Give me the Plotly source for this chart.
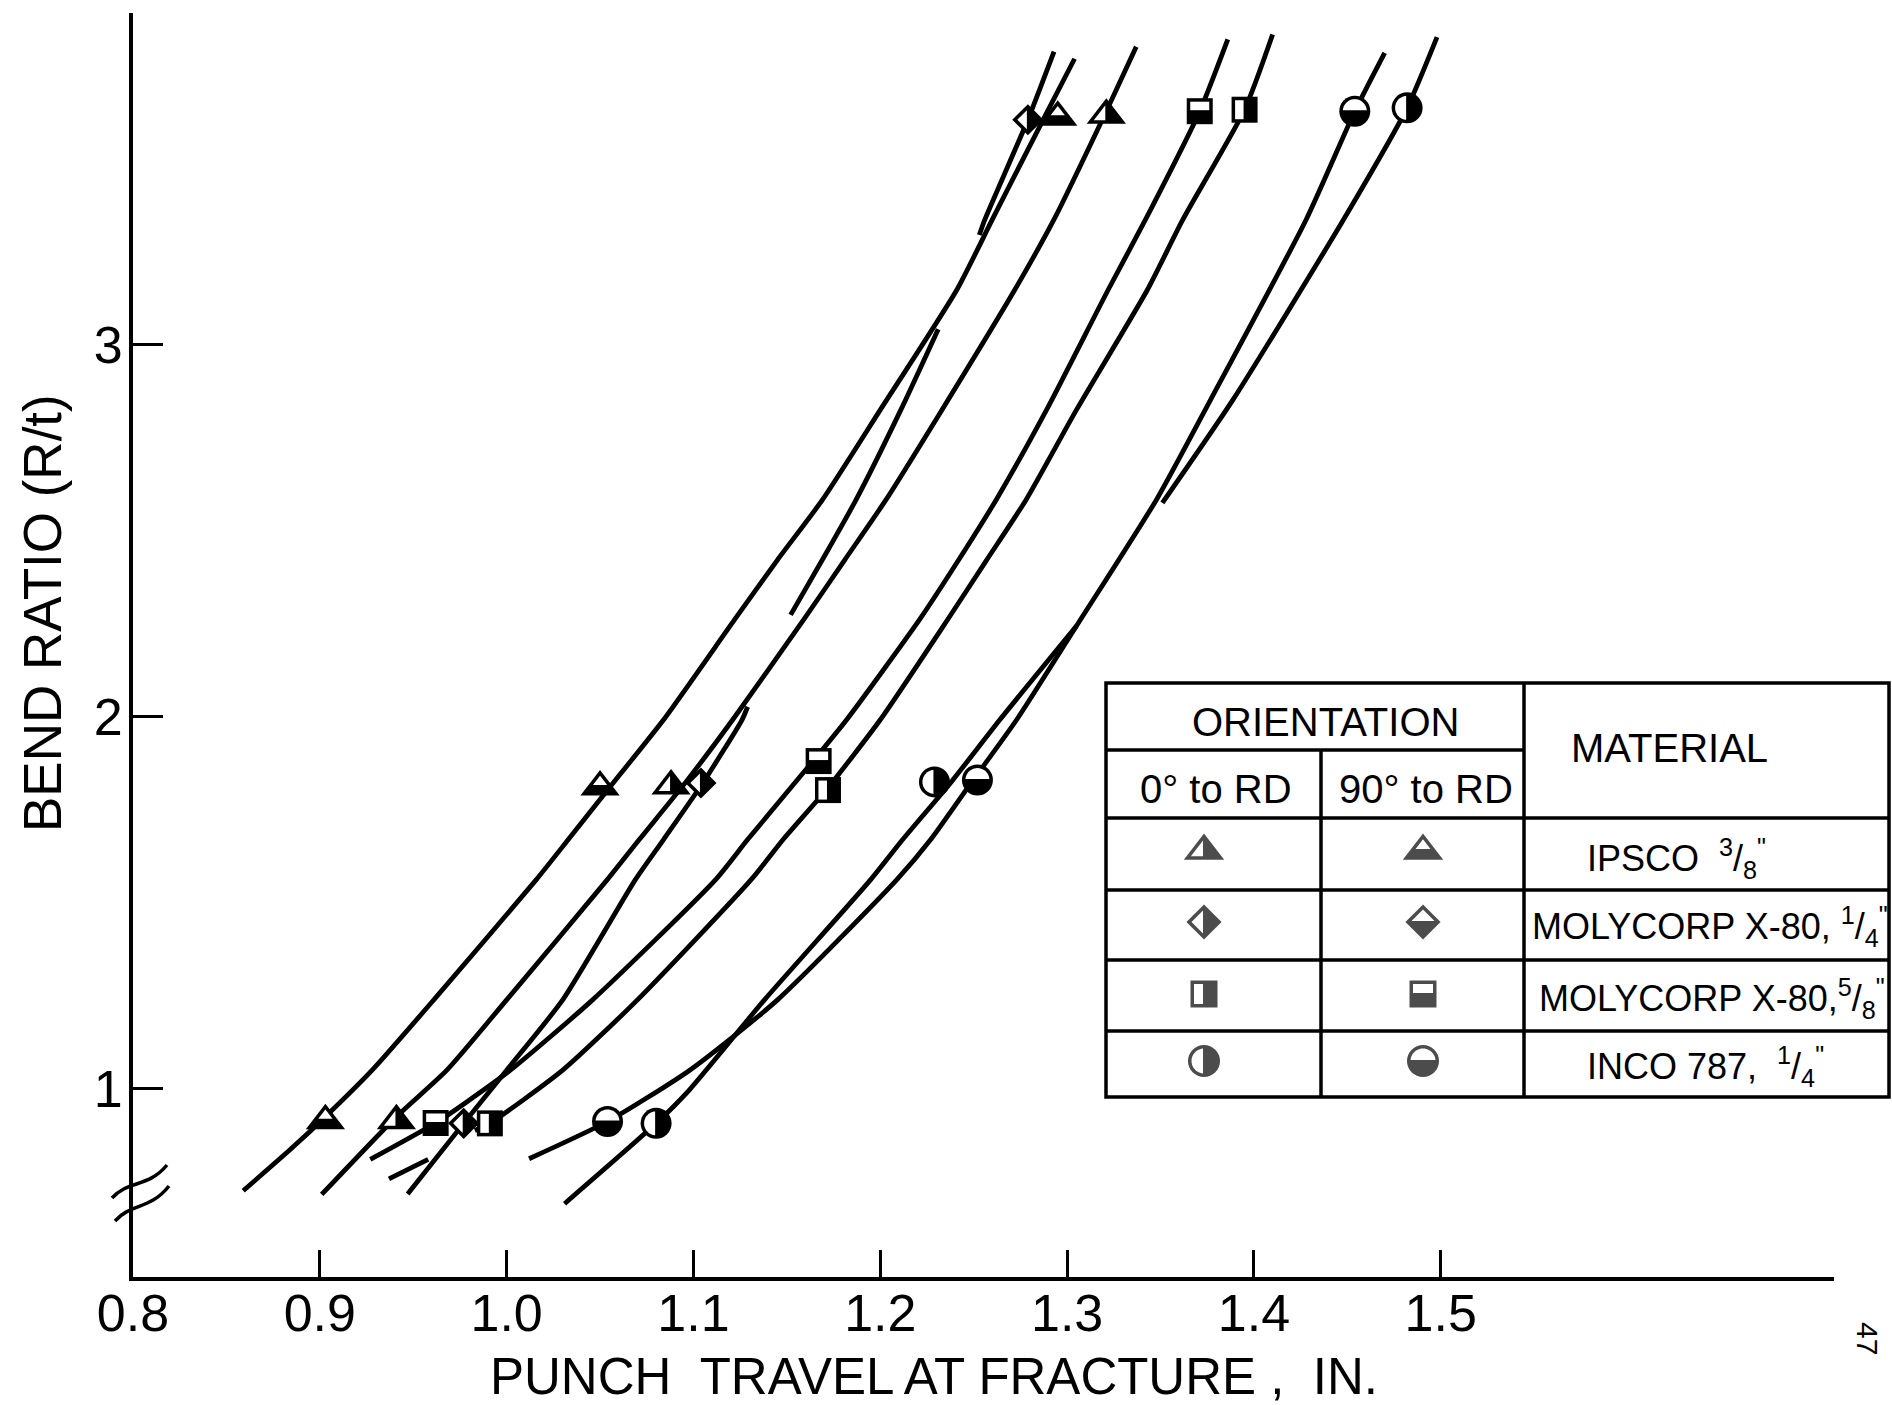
import math
import plotly.graph_objects as go

# ---------------- values ----------------
x_ticks = [0.8, 0.9, 1.0, 1.1, 1.2, 1.3, 1.4, 1.5]
x_ticklabels = ["0.8", "0.9", "1.0", "1.1", "1.2", "1.3", "1.4", "1.5"]
y_ticks = [1, 2, 3]
y_ticklabels = ["1", "2", "3"]
x_range = [0.8, 1.7105]
y_range = [0.494, 3.892]

# plotted points (punch travel at fracture, in. ; bend ratio R/t)
ipsco_0_x = [0.941, 1.088, 1.321]
ipsco_0_y = [0.914, 1.814, 3.617]
ipsco_90_x = [0.903, 1.050, 1.295]
ipsco_90_y = [0.914, 1.811, 3.612]
moly14_0_x = [0.977, 1.104, 1.279]
moly14_0_y = [0.907, 1.822, 3.605]
moly58_0_x = [0.991, 1.172, 1.395]
moly58_0_y = [0.907, 1.803, 3.632]
moly58_90_x = [0.962, 1.167, 1.371]
moly58_90_y = [0.908, 1.881, 3.628]
inco_0_x = [1.080, 1.229, 1.482]
inco_0_y = [0.907, 1.825, 3.637]
inco_90_x = [1.054, 1.252, 1.454]
inco_90_y = [0.912, 1.830, 3.628]

# hand-drawn curves (None = pen lifted)
ipsco_90_curve_x = [0.859, 0.884, 0.903, 0.928, 0.961, 1.016, 1.033, 1.057, 1.084, 1.122,
                    1.145, 1.169, 1.200, 1.241, 1.260, 1.289, 1.304]
ipsco_90_curve_y = [0.726, 0.836, 0.925, 1.050, 1.239, 1.563, 1.670, 1.822, 1.992, 2.261,
                    2.422, 2.583, 2.825, 3.148, 3.337, 3.623, 3.769]
ipsco_0_curve_x = [0.901, 0.941, 0.968, 1.000, 1.054, 1.071, 1.096, 1.121, 1.159, 1.181,
                   1.203, 1.233, 1.272, 1.293, 1.321, 1.337]
ipsco_0_curve_y = [0.716, 0.925, 1.050, 1.239, 1.563, 1.670, 1.825, 1.992, 2.261, 2.422,
                   2.583, 2.825, 3.148, 3.337, 3.628, 3.801]
moly14_0_curve_x = [0.947, 0.977, 1.000, 1.030, 1.069, 1.084, 1.105, 1.126, 1.129, None,
                    1.152, 1.169, 1.187, 1.211, 1.231, None, 1.253, 1.256, 1.279, 1.293]
moly14_0_curve_y = [0.717, 0.907, 1.050, 1.239, 1.563, 1.670, 1.822, 1.992, 2.027, None,
                    2.274, 2.422, 2.583, 2.825, 3.042, None, 3.295, 3.337, 3.605, 3.788]
moly58_90_curve_x = [0.927, 0.962, 0.979, 1.002, 1.046, 1.112, 1.129, 1.164, 1.182, 1.221,
                     1.242, 1.262, 1.289, 1.322, 1.342, 1.371, 1.386]
moly58_90_curve_y = [0.810, 0.908, 0.966, 1.050, 1.239, 1.563, 1.670, 1.881, 1.992, 2.261,
                     2.422, 2.583, 2.825, 3.148, 3.337, 3.628, 3.821]
moly58_0_curve_x = [0.937, 0.958, None, 0.983, 0.991, 1.030, 1.070, 1.131, 1.148, 1.171,
                    1.200, 1.236, 1.257, 1.278, 1.305, 1.343, 1.362, 1.395, 1.410]
moly58_0_curve_y = [0.758, 0.810, None, 0.888, 0.907, 1.050, 1.239, 1.563, 1.670, 1.803,
                    1.992, 2.261, 2.422, 2.583, 2.825, 3.148, 3.337, 3.632, 3.834]
inco_90_curve_x = [1.012, 1.054, 1.098, 1.145, 1.209, 1.227, 1.249, 1.273, 1.305, 1.348,
                   1.377, 1.428, 1.454, 1.470]
inco_90_curve_y = [0.812, 0.912, 1.050, 1.239, 1.563, 1.670, 1.825, 1.992, 2.244, 2.585,
                   2.854, 3.337, 3.628, 3.785]
inco_0_curve_x = [1.031, 1.080, 1.098, 1.138, 1.195, 1.212, 1.238, 1.264, 1.305, None,
                  1.351, 1.389, 1.448, 1.482, 1.498]
inco_0_curve_y = [0.691, 0.907, 0.998, 1.239, 1.563, 1.670, 1.825, 1.992, 2.244, None,
                  2.575, 2.854, 3.337, 3.637, 3.827]

# legend table text
orientation_header = "ORIENTATION"
orientation_cols = ["0° to RD", "90° to RD"]
material_header = "MATERIAL"
materials = [
    "IPSCO  <sup>3</sup>/<sub>8</sub><sup>\"</sup>",
    "MOLYCORP X-80, <sup>1</sup>/<sub>4</sub><sup>\"</sup>",
    "MOLYCORP X-80,<sup>5</sup>/<sub>8</sub><sup>\"</sup>",
    "INCO 787,  <sup>1</sup>/<sub>4</sub><sup>\"</sup>",
]
legend_symbols = ["triangle-up", "diamond", "square", "circle"]

# ---------------- layout geometry ----------------
W, H = 1892, 1405
ML, MR, MT, MB = 133, 58, 13, 128
FONT = "Liberation Sans, Arial, sans-serif"
LW = 4.8


def PX(x):
    return (x - ML) / (W - ML - MR)


def PY(y):
    return 1 - (y - MT) / (H - MT - MB)


def poly_path(pts):
    return "M" + "L".join(f"{x:.2f},{y:.2f}" for x, y in pts) + "Z"


def half_path(symbol, size, half, b=3.5, g=1.0):
    """white half of a half-filled symbol, pixel coords (y up) about the marker centre"""
    r = size / 2.0
    if symbol == "circle":
        ri = r - b
        pts = []
        for i in range(25):
            if half == "left":
                a = math.pi / 2 + math.pi * i / 24
                pts.append((min(ri * math.cos(a), -g), ri * math.sin(a)))
            else:
                a = math.pi * i / 24
                pts.append((ri * math.cos(a), max(ri * math.sin(a), g)))
        return poly_path(pts)
    if symbol == "square":
        h = r - b
        if half == "left":
            return poly_path([(-h, -h), (-g, -h), (-g, h), (-h, h)])
        return poly_path([(-h, g), (h, g), (h, h), (-h, h)])
    if symbol == "diamond":
        ri = 1.3 * r - b * 1.45
        if half == "left":
            return poly_path([(-ri, 0), (-g, ri - g), (-g, -(ri - g))])
        return poly_path([(-(ri - g), g), (0, ri), (ri - g, g)])
    # triangle-up (plotly geometry)
    hw = 2 * r / math.sqrt(3)
    A, B, C = (-hw, -0.5 * r), (hw, -0.5 * r), (0.0, r)
    side = math.hypot(hw, 1.5 * r)
    area = 0.5 * 2 * hw * 1.5 * r
    inr = 2 * area / (2 * hw + 2 * side)
    I = (0.0, -0.5 * r + inr)
    k = 1 - b / inr
    A2, B2, C2 = [(I[0] + k * (p[0] - I[0]), I[1] + k * (p[1] - I[1])) for p in (A, B, C)]
    if half == "left":
        t = (-g - A2[0]) / (C2[0] - A2[0])
        yv = A2[1] + t * (C2[1] - A2[1])
        return poly_path([A2, (-g, A2[1]), (-g, yv)])
    y0 = I[1] + 0.05 * r
    xl = A2[0] + (y0 - A2[1]) / (C2[1] - A2[1]) * (C2[0] - A2[0])
    return poly_path([(xl, y0), (-xl, y0), C2])


MSIZE = {"triangle-up": 34, "diamond": 24, "square": 26, "circle": 31}
LSIZE = {"triangle-up": 35, "diamond": 27, "square": 27, "circle": 32}

series = [
    ("IPSCO 3/8, 90° to RD", ipsco_90_x, ipsco_90_y, ipsco_90_curve_x, ipsco_90_curve_y, "triangle-up", "top"),
    ("IPSCO 3/8, 0° to RD", ipsco_0_x, ipsco_0_y, ipsco_0_curve_x, ipsco_0_curve_y, "triangle-up", "left"),
    ("MOLYCORP X-80 1/4, 0° to RD", moly14_0_x, moly14_0_y, moly14_0_curve_x, moly14_0_curve_y, "diamond", "left"),
    ("MOLYCORP X-80 5/8, 90° to RD", moly58_90_x, moly58_90_y, moly58_90_curve_x, moly58_90_curve_y, "square", "top"),
    ("MOLYCORP X-80 5/8, 0° to RD", moly58_0_x, moly58_0_y, moly58_0_curve_x, moly58_0_curve_y, "square", "left"),
    ("INCO 787 1/4, 90° to RD", inco_90_x, inco_90_y, inco_90_curve_x, inco_90_curve_y, "circle", "top"),
    ("INCO 787 1/4, 0° to RD", inco_0_x, inco_0_y, inco_0_curve_x, inco_0_curve_y, "circle", "left"),
]

fig = go.Figure()
shapes = []

for name, mx, my, cx, cy, sym, half in series:
    fig.add_trace(go.Scatter(
        x=cx, y=cy, mode="lines", name=name + " curve", showlegend=False,
        line=dict(color="black", width=LW, shape="spline", smoothing=0.6),
        connectgaps=False, hoverinfo="skip"))

for name, mx, my, cx, cy, sym, half in series:
    fig.add_trace(go.Scatter(
        x=mx, y=my, mode="markers", name=name, showlegend=False,
        marker=dict(symbol=sym, size=MSIZE[sym], color="black", line=dict(width=0))))
    for xv, yv in zip(mx, my):
        shapes.append(dict(type="path", xref="x", yref="y", xsizemode="pixel", ysizemode="pixel",
                           xanchor=xv, yanchor=yv, path=half_path(sym, MSIZE[sym], half),
                           fillcolor="white", line=dict(width=0), layer="above"))

# ---------------- legend table ----------------
TX0, TX1, TY0, TY1 = 1106, 1889, 683, 1097
COL1, COL2 = 1321, 1524
ROW_LINES = [818, 890, 960, 1031]
ROW_Y = [851, 922, 994, 1061]
COL_X = [1204, 1423]

line_style = dict(color="black", width=3.5)
shapes.append(dict(type="rect", xref="paper", yref="paper", x0=PX(TX0), x1=PX(TX1),
                   y0=PY(TY1), y1=PY(TY0), line=line_style, fillcolor="rgba(0,0,0,0)"))
shapes.append(dict(type="line", xref="paper", yref="paper", x0=PX(TX0), x1=PX(COL2),
                   y0=PY(750), y1=PY(750), line=line_style))
for yl in ROW_LINES:
    shapes.append(dict(type="line", xref="paper", yref="paper", x0=PX(TX0), x1=PX(TX1),
                       y0=PY(yl), y1=PY(yl), line=line_style))
shapes.append(dict(type="line", xref="paper", yref="paper", x0=PX(COL1), x1=PX(COL1),
                   y0=PY(750), y1=PY(TY1), line=line_style))
shapes.append(dict(type="line", xref="paper", yref="paper", x0=PX(COL2), x1=PX(COL2),
                   y0=PY(TY0), y1=PY(TY1), line=line_style))

leg_x, leg_y, leg_sym, leg_size = [], [], [], []
for ri, sym in enumerate(legend_symbols):
    for ci, half in enumerate(["left", "top"]):
        leg_x.append(COL_X[ci])
        leg_y.append(ROW_Y[ri])
        leg_sym.append(sym)
        leg_size.append(LSIZE[sym])
        shapes.append(dict(type="path", xref="x2", yref="y2", xsizemode="pixel", ysizemode="pixel",
                           xanchor=COL_X[ci], yanchor=ROW_Y[ri],
                           path=half_path(sym, LSIZE[sym], half),
                           fillcolor="white", line=dict(width=0), layer="above"))
fig.add_trace(go.Scatter(x=leg_x, y=leg_y, xaxis="x2", yaxis="y2", mode="markers",
                         showlegend=False, hoverinfo="skip",
                         marker=dict(symbol=leg_sym, size=leg_size, color="black", line=dict(width=0))))

# axis break marks
shapes.append(dict(type="path", xref="paper", yref="paper",
                   path=f"M{PX(112)},{PY(1198)} C{PX(128)},{PY(1180)} {PX(148)},{PY(1188)} {PX(167)},{PY(1165)}",
                   line=dict(color="black", width=3.5)))
shapes.append(dict(type="path", xref="paper", yref="paper",
                   path=f"M{PX(115)},{PY(1221)} C{PX(131)},{PY(1203)} {PX(150)},{PY(1210)} {PX(169)},{PY(1186)}",
                   line=dict(color="black", width=3.5)))

ann = []


def text(s, x, y, size, angle=0):
    ann.append(dict(text=s, x=PX(x), y=PY(y), xref="paper", yref="paper", showarrow=False,
                    xanchor="center", yanchor="middle", textangle=angle,
                    font=dict(family=FONT, size=size, color="black")))


text(orientation_header, 1325, 722, 40)
text(material_header, 1669, 748, 40)
text(orientation_cols[0], 1216, 789, 40)
text(orientation_cols[1], 1426, 789, 40)
text(materials[0], 1676, 858, 36)
text(materials[1], 1710, 926, 36)
text(materials[2], 1712, 998, 36)
text(materials[3], 1705, 1066, 36)
text("BEND RATIO (R/t)", 42, 613, 53, -90)
text("PUNCH&nbsp;&nbsp;TRAVEL AT FRACTURE ,&nbsp;&nbsp;IN.", 934, 1376, 51)
text("47", 1868, 1338, 30, 90)

fig.update_layout(
    width=W, height=H, autosize=False,
    margin=dict(l=ML, r=MR, t=MT, b=MB, pad=0),
    paper_bgcolor="white", plot_bgcolor="white",
    font=dict(family=FONT, color="black"),
    showlegend=False, hovermode=False,
    shapes=shapes, annotations=ann,
    xaxis=dict(range=x_range, tickvals=x_ticks, ticktext=x_ticklabels, ticks="inside",
               ticklen=27, tickwidth=3, tickcolor="black", showline=True, linewidth=4,
               linecolor="black", showgrid=False, zeroline=False, mirror=False,
               tickfont=dict(family=FONT, size=52, color="black"), ticklabelstandoff=-12),
    yaxis=dict(range=y_range, tickvals=y_ticks, ticktext=y_ticklabels, ticks="inside",
               ticklen=30, tickwidth=3, tickcolor="black", showline=True, linewidth=4,
               linecolor="black", showgrid=False, zeroline=False, mirror=False,
               tickfont=dict(family=FONT, size=52, color="black"), ticklabelstandoff=-4),
    xaxis2=dict(range=[ML, W - MR], overlaying="x", anchor="y2", visible=False),
    yaxis2=dict(range=[H - MB, MT], overlaying="y", anchor="x2", visible=False),
)

fig.write_html("out.html")
